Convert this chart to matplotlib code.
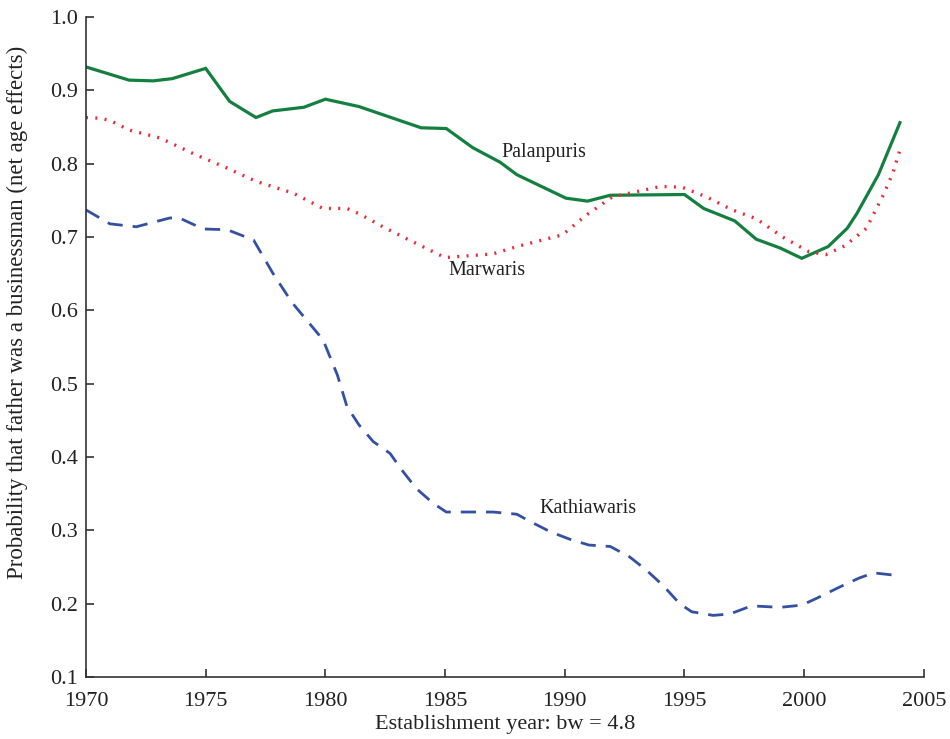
import matplotlib
matplotlib.use("Agg")
import matplotlib.pyplot as plt

# values
pal_year = [1970, 1971.8, 1972.8, 1973.6, 1975.0, 1976.0, 1977.1, 1977.8, 1979.1,
            1980.0, 1981.4, 1984.0, 1985.05, 1986.15, 1987.3, 1988.0, 1990.05, 1990.95,
            1991.9, 1995.0, 1995.8, 1997.1, 1998.0, 1999.0, 1999.9, 2001.0, 2001.8,
            2002.2, 2003.1, 2004.0]
pal_val = [0.932, 0.914, 0.913, 0.916, 0.930, 0.885, 0.863, 0.872, 0.877,
           0.888, 0.878, 0.849, 0.848, 0.822, 0.802, 0.785, 0.753, 0.749,
           0.757, 0.758, 0.739, 0.722, 0.697, 0.685, 0.671, 0.687, 0.712,
           0.732, 0.785, 0.856]

mar_year = [1970, 1970.6, 1971.0, 1971.8, 1973.1, 1974.6, 1975.9, 1977.1, 1978.65,
            1979.9, 1980.9, 1981.4, 1982.4, 1983.5, 1985.0, 1987.0, 1988.0, 1989.9,
            1990.9, 1992.0, 1993.3, 1994.0, 1994.9, 1995.9, 1997.0, 1998.0, 1999.1,
            2000.2, 2000.9, 2001.7, 2002.6, 2003.3, 2003.7, 2004.0]
mar_val = [0.863, 0.862, 0.859, 0.846, 0.835, 0.812, 0.794, 0.776, 0.760,
           0.739, 0.739, 0.732, 0.714, 0.696, 0.672, 0.677, 0.687, 0.703,
           0.730, 0.755, 0.764, 0.769, 0.768, 0.755, 0.737, 0.725, 0.700,
           0.680, 0.676, 0.688, 0.712, 0.757, 0.787, 0.819]

kat_year = [1970, 1971.0, 1972.1, 1973.5, 1973.9, 1974.9, 1975.9, 1977.0, 1977.8,
            1978.4, 1978.7, 1979.9, 1980.5, 1980.9, 1981.4, 1982.0, 1982.7, 1983.2,
            1983.8, 1984.5, 1985.05, 1987.0, 1988.0, 1988.5, 1989.4, 1990.2, 1991.0,
            1991.9, 1992.7, 1993.4, 1994.1, 1994.8, 1995.3, 1996.2, 1996.9, 1997.8,
            1999.0, 1999.9, 2000.5, 2001.5, 2002.3, 2002.9, 2004.0]
kat_val = [0.737, 0.718, 0.714, 0.726, 0.726, 0.711, 0.710, 0.696, 0.651,
           0.621, 0.607, 0.560, 0.512, 0.469, 0.444, 0.421, 0.405, 0.382,
           0.357, 0.337, 0.325, 0.325, 0.322, 0.313, 0.298, 0.288, 0.280,
           0.278, 0.264, 0.246, 0.225, 0.200, 0.189, 0.184, 0.186, 0.197,
           0.195, 0.198, 0.207, 0.223, 0.235, 0.242, 0.238]

x_ticks = [1970, 1975, 1980, 1985, 1990, 1995, 2000, 2005]
y_ticks = [0.1, 0.2, 0.3, 0.4, 0.5, 0.6, 0.7, 0.8, 0.9, 1.0]

plt.rcParams["font.family"] = ["Liberation Serif", "DejaVu Serif"]

fig = plt.figure(figsize=(9.5, 7.39), dpi=100)
ax = fig.add_axes([0.0905, 0.0839, 0.882, 0.893])

ax.plot(pal_year, pal_val, color="#13803f", lw=2.3, solid_joinstyle="miter")
ax.plot(mar_year, mar_val, color="#ee2a35", lw=2.4, linestyle=(0, (0.6, 2.2)),
        dash_capstyle="butt")
ax.plot(kat_year, kat_val, color="#3350a3", lw=2.0, linestyle=(0, (5.5, 3.6)))

ax.text(1987.35, 0.815, "Palanpuris", fontsize=14.5, color="#222", va="center")
ax.text(1985.15, 0.654, "Marwaris", fontsize=14.5, color="#222", va="center")
ax.text(1988.95, 0.330, "Kathiawaris", fontsize=14.5, color="#222", va="center")

ax.set_xlim(1970, 2005)
ax.set_ylim(0.1, 1.0)
ax.set_xticks(x_ticks)
ax.set_yticks(y_ticks)
ax.set_yticklabels([f"{v:.1f}" for v in y_ticks])
ax.tick_params(direction="in", length=6, width=1.2, color="#333",
               labelsize=16, labelcolor="#222")
ax.tick_params(axis="x", pad=11)
ax.tick_params(axis="y", pad=6)
for s in ["top", "right"]:
    ax.spines[s].set_visible(False)
for s in ["left", "bottom"]:
    ax.spines[s].set_color("#333")
    ax.spines[s].set_linewidth(1.2)

ax.set_xlabel("Establishment year: bw = 4.8", fontsize=16, color="#222", labelpad=3)
ax.set_ylabel("Probability that father was a businessman (net age effects)",
              fontsize=16.5, color="#222")
ax.yaxis.set_label_coords(-0.069, 0.552)

fig.savefig("out.png", dpi=100)
